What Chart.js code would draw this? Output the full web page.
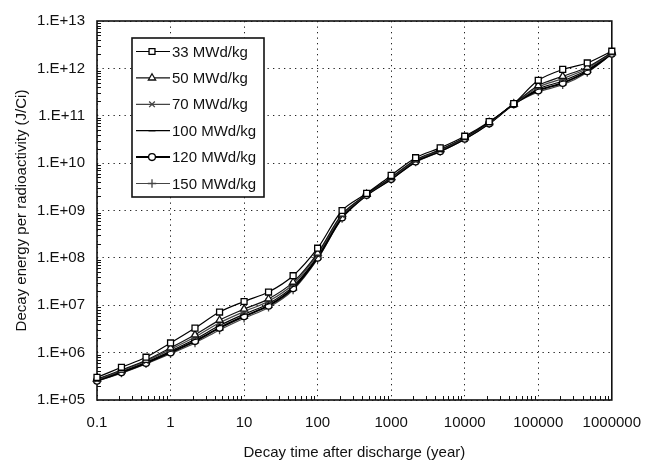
<!DOCTYPE html>
<html>
<head>
<meta charset="utf-8">
<script src="https://cdn.jsdelivr.net/npm/chart.js@4.4.1/dist/chart.umd.min.js"></script>
<style>
  html, body { margin: 0; padding: 0; background: #fff; }
  #wrap { width: 655px; height: 468px; }
</style>
</head>
<body>
<div id="wrap"><canvas id="c"></canvas></div>
<script>
'use strict';

/* ── Data ─────────────────────────────────────────────────────────── */
const decayYears = [0.1, 0.215, 0.464, 1, 2.15, 4.64, 10, 21.5, 46.4, 100, 215, 464,
                    1000, 2150, 4640, 10000, 21500, 46400, 100000, 215000, 464000, 1000000];

const burnup33  = [3.0e5, 4.9e5, 8.0e5, 1.6e6, 3.3e6, 7.2e6, 1.2e7, 1.9e7, 4.2e7, 1.6e8, 1.0e9, 2.3e9,
                   5.5e9, 1.3e10, 2.1e10, 3.7e10, 7.5e10, 1.8e11, 5.6e11, 9.5e11, 1.3e12, 2.3e12];
const burnup50  = [2.76e5, 4.3e5, 6.9e5, 1.26e6, 2.38e6, 4.85e6, 8.3e6, 1.36e7, 3.07e7, 1.26e8, 8.4e8, 2.2e9,
                   5.0e9, 1.18e10, 1.93e10, 3.47e10, 7.2e10, 1.78e11, 4.35e11, 6.8e11, 1.06e12, 2.16e12];
const burnup70  = [2.69e5, 4.14e5, 6.6e5, 1.17e6, 2.14e6, 4.26e6, 7.35e6, 1.21e7, 2.77e7, 1.17e8, 7.9e8, 2.18e9,
                   4.87e9, 1.14e10, 1.88e10, 3.39e10, 7.08e10, 1.77e11, 4.0e11, 6.07e11, 9.9e11, 2.11e12];
const burnup100 = [2.62e5, 3.96e5, 6.28e5, 1.08e6, 1.92e6, 3.73e6, 6.5e6, 1.08e7, 2.5e7, 1.08e8, 7.5e8, 2.15e9,
                   4.73e9, 1.11e10, 1.83e10, 3.32e10, 6.97e10, 1.76e11, 3.68e11, 5.42e11, 9.2e11, 2.07e12];
const burnup120 = [2.55e5, 3.83e5, 6.03e5, 1.01e6, 1.75e6, 3.33e6, 5.85e6, 9.8e6, 2.28e7, 1.01e8, 7.1e8, 2.12e9,
                   4.6e9, 1.08e10, 1.79e10, 3.26e10, 6.89e10, 1.75e11, 3.42e11, 4.92e11, 8.7e11, 2.03e12];
const burnup150 = [2.5e5, 3.7e5, 5.8e5, 9.5e5, 1.6e6, 3.0e6, 5.3e6, 9.0e6, 2.1e7, 9.5e7, 6.8e8, 2.1e9,
                   4.5e9, 1.05e10, 1.75e10, 3.2e10, 6.8e10, 1.75e11, 3.2e11, 4.5e11, 8.2e11, 2.0e12];

const seriesLabels = ['33 MWd/kg', '50 MWd/kg', '70 MWd/kg', '100 MWd/kg', '120 MWd/kg', '150 MWd/kg'];

const xTickValues = [0.1, 1, 10, 100, 1000, 10000, 100000, 1000000];
const xTickLabels = ['0.1', '1', '10', '100', '1000', '10000', '100000', '1000000'];
const yTickValues = [1e5, 1e6, 1e7, 1e8, 1e9, 1e10, 1e11, 1e12, 1e13];
const yTickLabels = ['1.E+05', '1.E+06', '1.E+07', '1.E+08', '1.E+09', '1.E+10', '1.E+11', '1.E+12', '1.E+13'];

/* ── Styles ───────────────────────────────────────────────────────── */
const FONT = '"Liberation Sans", Arial, sans-serif';
const INK  = '#111';

const STYLES = [
  { color: '#000', width: 1.2, point: 'rect',     radius: 4.2 },
  { color: '#111', width: 1.2, point: 'triangle', radius: 4.2 },
  { color: '#444', width: 1.2, point: 'crossRot', radius: 4   },
  { color: '#000', width: 1.2, point: 'line',     radius: 3.5 },
  { color: '#000', width: 2,   point: 'circle',   radius: 3.4 },
  { color: '#444', width: 1.2, point: 'cross',    radius: 4.2 },
];

const allSeries = [burnup33, burnup50, burnup70, burnup100, burnup120, burnup150];

const datasets = allSeries.map((vals, i) => ({
  label:                seriesLabels[i],
  data:                 decayYears.map((x, j) => ({ x, y: vals[j] })),
  borderColor:          STYLES[i].color,
  borderWidth:          STYLES[i].width,
  pointStyle:           STYLES[i].point,
  pointRadius:          STYLES[i].radius,
  pointBorderWidth:     1.3,
  pointBorderColor:     STYLES[i].color,
  pointBackgroundColor: '#fff',
  tension:              0.3,
  clip:                 false,
}));

/* ── Plot frame + inward minor ticks ──────────────────────────────── */
const frameAndMinors = {
  id: 'frameAndMinors',
  beforeDatasetsDraw(chart) {
    const { ctx, chartArea: a, scales: { x, y } } = chart;
    ctx.save();
    ctx.strokeStyle = INK;
    ctx.lineWidth = 1;
    ctx.beginPath();
    xTickValues.slice(0, -1).forEach(d => {
      for (let m = 2; m <= 9; m++) {
        const px = Math.round(x.getPixelForValue(d * m)) + 0.5;
        ctx.moveTo(px, a.bottom);
        ctx.lineTo(px, a.bottom - 4);
      }
    });
    yTickValues.slice(0, -1).forEach(d => {
      for (let m = 2; m <= 9; m++) {
        const py = Math.round(y.getPixelForValue(d * m)) + 0.5;
        ctx.moveTo(a.left, py);
        ctx.lineTo(a.left + 4, py);
      }
    });
    ctx.stroke();
    ctx.lineWidth = 1.6;
    ctx.strokeRect(a.left, a.top, a.right - a.left, a.bottom - a.top);
    ctx.restore();
  },
};

/* ── Legend box inside plot ───────────────────────────────────────── */
const legendBox = {
  id: 'legendBox',
  afterDraw(chart) {
    const { ctx, chartArea: a } = chart;
    const x0 = a.left + 35, y0 = a.top + 17, w = 132, h = 159;
    ctx.save();
    ctx.fillStyle = '#fff';
    ctx.fillRect(x0, y0, w, h);
    ctx.strokeStyle = INK;
    ctx.lineWidth = 1.6;
    ctx.strokeRect(x0, y0, w, h);
    ctx.font = '15px ' + FONT;
    ctx.textBaseline = 'middle';
    ctx.textAlign = 'left';
    chart.data.datasets.forEach((ds, i) => {
      const yy = y0 + 13.5 + i * 26.4;
      ctx.strokeStyle = ds.borderColor;
      ctx.lineWidth = ds.borderWidth;
      ctx.beginPath();
      ctx.moveTo(x0 + 4, yy);
      ctx.lineTo(x0 + 38, yy);
      ctx.stroke();
      ctx.fillStyle = '#fff';
      ctx.lineWidth = 1.3;
      Chart.helpers.drawPoint(ctx, { pointStyle: ds.pointStyle, radius: ds.pointRadius, borderWidth: 1.3, rotation: 0 }, x0 + 20, yy);
      ctx.fillStyle = INK;
      ctx.fillText(ds.label, x0 + 40, yy + 1);
    });
    ctx.restore();
  },
};

new Chart(document.getElementById('c'), {
  type: 'line',
  data: { datasets },
  options: {
    responsive: true,
    maintainAspectRatio: false,
    animation: false,
    layout: { padding: { top: 13, right: 42, left: 0, bottom: 0 } },
    plugins: { legend: { display: false }, tooltip: { enabled: false } },
    scales: {
      x: {
        type: 'logarithmic',
        min: 0.1,
        max: 1000000,
        afterBuildTicks: s => { s.ticks = xTickValues.map(v => ({ value: v })); },
        afterFit: s => { s.height = 68; },
        grid: { color: '#222', lineWidth: 1, drawTicks: false },
        border: { display: false, dash: [1.3, 4.2] },
        ticks: {
          autoSkip: false, maxRotation: 0, padding: 14, color: INK,
          font: { family: FONT, size: 15 },
          callback: (v, i) => xTickLabels[i],
        },
        title: {
          display: true, text: 'Decay time after discharge (year)', color: INK,
          font: { family: FONT, size: 15 }, padding: { top: 0, bottom: 6 },
        },
      },
      y: {
        type: 'logarithmic',
        min: 1e5,
        max: 1e13,
        afterBuildTicks: s => { s.ticks = yTickValues.map(v => ({ value: v })); },
        afterFit: s => { s.width = 97; },
        grid: { color: '#222', lineWidth: 1, drawTicks: false },
        border: { display: false, dash: [1.3, 4.2] },
        ticks: {
          autoSkip: false, padding: 12, color: INK,
          font: { family: FONT, size: 15 },
          callback: (v, i) => yTickLabels[i],
        },
        title: {
          display: true, text: 'Decay energy per radioactivity (J/Ci)', color: INK,
          font: { family: FONT, size: 15 }, padding: { top: 13, bottom: 0 },
        },
      },
    },
  },
  plugins: [frameAndMinors, legendBox],
});
</script>
</body>
</html>
